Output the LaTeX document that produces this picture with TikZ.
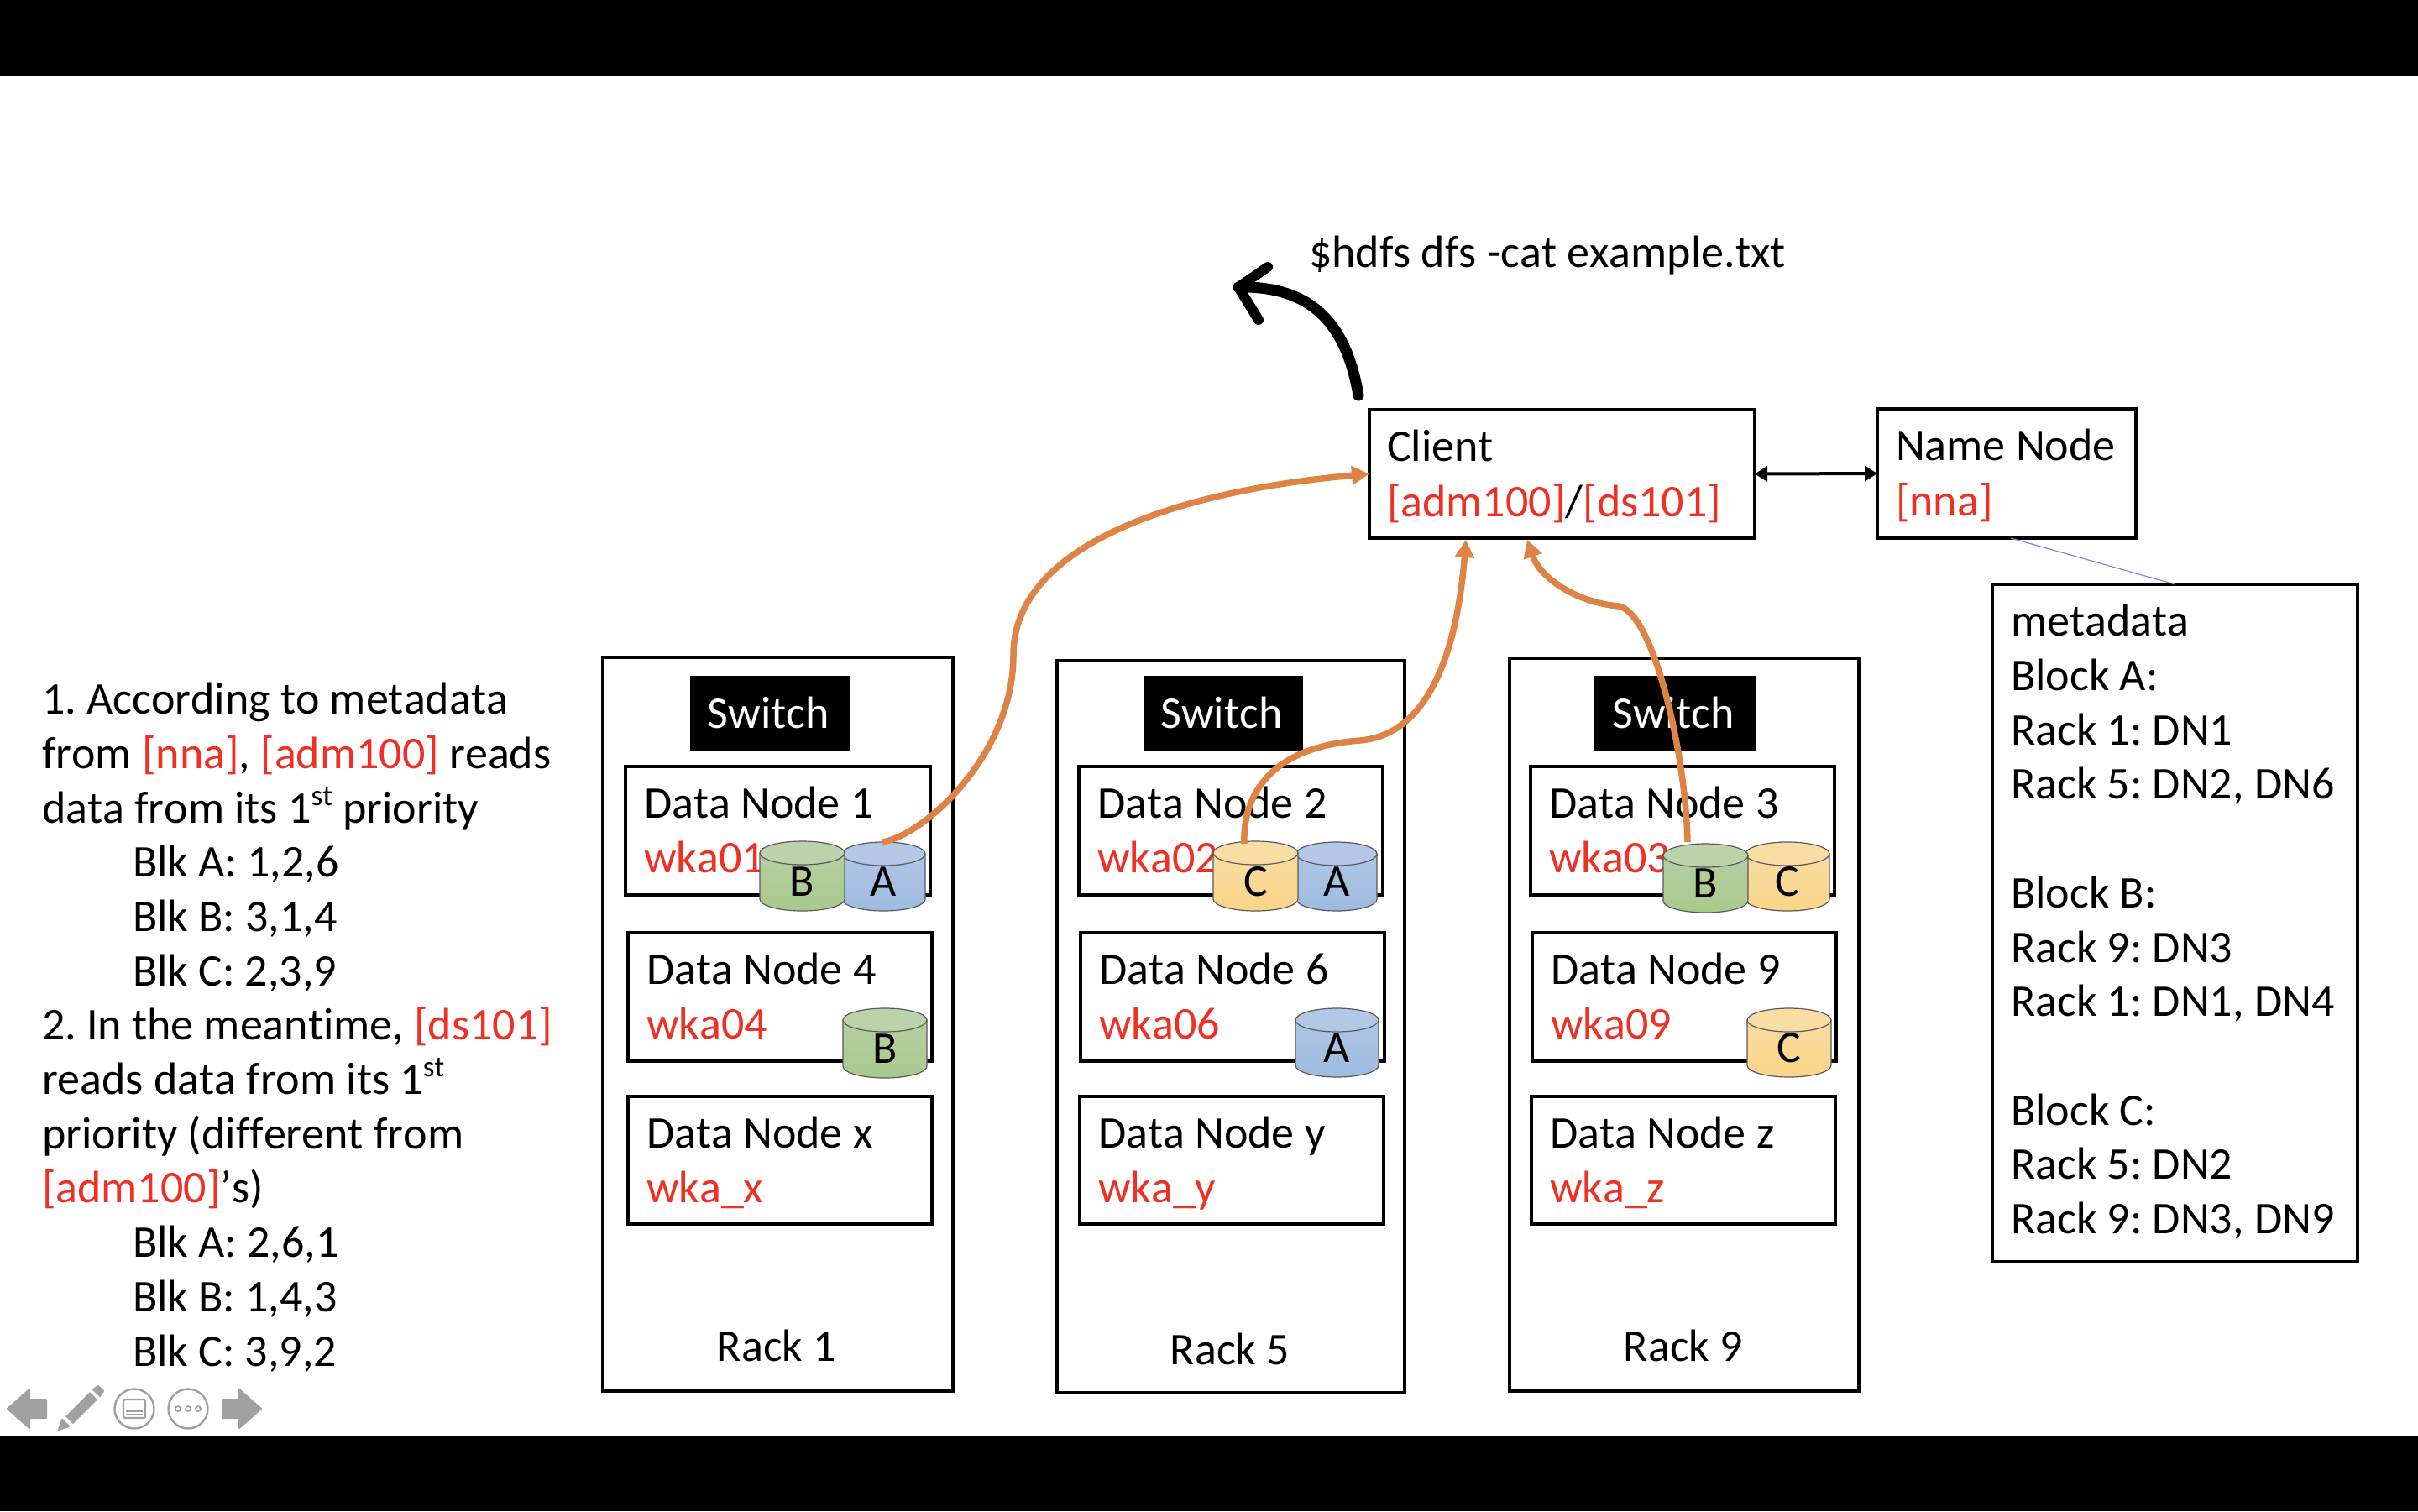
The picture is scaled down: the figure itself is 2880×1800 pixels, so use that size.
\documentclass[tikz,border=0pt]{standalone}
\usepackage{fontspec}
\setmainfont[Ligatures={NoCommon},Kerning=Off]{Carlito}
\usetikzlibrary{arrows.meta}
\frenchspacing
\definecolor{redt}{HTML}{EE3124}
\definecolor{orangeline}{HTML}{DF8344}
\definecolor{blueline}{HTML}{6F8FD0}
\definecolor{greenT}{HTML}{BBD2AA}\definecolor{greenA}{HTML}{B6CFA3}\definecolor{greenB}{HTML}{A9C98B}
\definecolor{blueT}{HTML}{B3C8E6}\definecolor{blueA}{HTML}{AFC5E4}\definecolor{blueB}{HTML}{9EBBE0}
\definecolor{yellT}{HTML}{F9DDA5}\definecolor{yellA}{HTML}{F9DCA2}\definecolor{yellB}{HTML}{F9D587}
\definecolor{icon}{HTML}{A0A0A0}
\newcommand{\rd}[1]{\textcolor{redt}{#1}}
\newcommand{\ordst}{\raisebox{21pt}{\fontsize{35}{35}\selectfont st}}
\tikzset{
  every node/.style={font=\fontsize{54}{64.7}\selectfont, inner sep=0pt, outer sep=0pt},
  boxst/.style={draw=black, line width=3.3pt, fill=white, rectangle},
  txtst/.style={anchor=base west, align=left},
  switchst/.style={fill=black, text=white, rectangle},
  flow/.style={draw=orangeline, line width=7.5pt, -{Triangle[length=21pt,width=22pt]}},
  cylline/.style={draw=black!65, line width=1.2pt},
  iconline/.style={draw=icon, line width=2.4pt},
}
% name, x1, y1, x2, y2
\newcommand{\rackbox}[5]{\node[boxst, minimum width={(#4-#2)*1pt}, minimum height={(#5-#3)*1pt}] (#1) at ({(#2+#4)/2},{(#3+#5)/2}) {};}
% name, x1, y1, x2, y2, first line, second line
\newcommand{\databox}[7]{%
  \rackbox{#1}{#2}{#3}{#4}{#5}
  \node[txtst] (#1-a) at ({#2+22},{#3+61}) {#6};
  \node[txtst] (#1-b) at ({#2+22},{#3+126}) {\rd{#7}};
}
% name, x1, x2, ytop, ybottom, colour stem, letter
\newcommand{\cyl}[7]{%
  \pgfmathsetmacro{\rx}{(#3-#2)/2}
  \pgfmathsetmacro{\xc}{(#2+#3)/2}
  \shade[cylline, top color=#6A, bottom color=#6B]
    (#2,{#4+14}) -- (#2,{#5-14}) arc[start angle=180,end angle=360,x radius=\rx pt,y radius=14pt] -- (#3,{#4+14}) -- cycle;
  \draw[cylline, fill=#6T] (\xc,{#4+14}) ellipse[x radius=\rx pt,y radius=14pt];
  \node[anchor=base] (#1) at (\xc,{#5-18}) {#7};
}
\begin{document}
\begin{tikzpicture}[x=1pt,y=-1pt]
\useasboundingbox (0,0) rectangle (2880,1800);
\fill[white] (0,0) rectangle (2880,1800);
\fill[black] (0,0) rectangle (2880,90);
\fill[black] (0,1710) rectangle (2880,1800);

% command
\node[txtst] (cmd) at (1559,318) {\$hdfs dfs -cat example.txt};

% top boxes
\rackbox{client}{1631}{488}{2090}{641}
\node[txtst] (client-a) at (1652,549) {Client};
\node[txtst] (client-b) at (1652,615) {\rd{[adm100]}/\rd{[ds101]}};
\rackbox{nn}{2236}{487}{2544}{641}
\node[txtst] (nn-a) at (2258,548) {Name Node};
\node[txtst] (nn-b) at (2258,614) {\rd{[nna]}};

% metadata
\node[boxst, minimum width=435pt, minimum height=807pt] (meta) at (2590.5,1099.5) {};
\node[txtst] (metatext) at (2395,1469.5) {metadata\\Block A:\\Rack 1: DN1\\Rack 5: DN2, DN6\\[64.7pt]Block B:\\Rack 9: DN3\\Rack 1: DN1, DN4\\[64.7pt]Block C:\\Rack 5: DN2\\Rack 9: DN3, DN9};
\draw[draw=blueline, line width=1.2pt] ([xshift=5pt]nn.south) -- (meta.north);

% left explanation
\node[txtst] (explain) at (50,1627) {1. According to metadata\\from \rd{[nna]}, \rd{[adm100]} reads\\data from its 1\ordst{} priority\\\hspace*{108pt}Blk A: 1,2,6\\\hspace*{108pt}Blk B: 3,1,4\\\hspace*{108pt}Blk C: 2,3,9\\2. In the meantime, \rd{[ds101]}\\reads data from its 1\ordst\\priority (different from\\\rd{[adm100]}’s)\\\hspace*{108pt}Blk A: 2,6,1\\\hspace*{108pt}Blk B: 1,4,3\\\hspace*{108pt}Blk C: 3,9,2};

% racks
\rackbox{rack1}{718}{783}{1135}{1657}
\rackbox{rack5}{1259}{787}{1673}{1659}
\rackbox{rack9}{1798}{784}{2214}{1657}
\node[anchor=base] (rack1-l) at (925,1621) {Rack 1};
\node[anchor=base] (rack5-l) at (1465,1625) {Rack 5};
\node[anchor=base] (rack9-l) at (2005,1621) {Rack 9};

% switches
\node[switchst, minimum width=191pt, minimum height=90pt] (sw1) at (917.5,850) {};
\node[switchst, minimum width=190pt, minimum height=90pt] (sw5) at (1457,850) {};
\node[switchst, minimum width=192pt, minimum height=90pt] (sw9) at (1995,850) {};
\node[anchor=base, text=white] (sw1-l) at (915.5,867) {Switch};
\node[anchor=base, text=white] (sw5-l) at (1455,867) {Switch};
\node[anchor=base, text=white] (sw9-l) at (1993,867) {Switch};

% data nodes
\databox{dn1}{745}{913}{1108}{1066}{Data Node 1}{wka01}
\databox{dn4}{748}{1111}{1110}{1264}{Data Node 4}{wka04}
\databox{dnx}{748}{1306}{1110}{1458}{Data Node x}{wka\_x}
\databox{dn2}{1285}{913}{1647}{1066}{Data Node 2}{wka02}
\databox{dn6}{1287}{1111}{1649}{1264}{Data Node 6}{wka06}
\databox{dny}{1286}{1306}{1648}{1458}{Data Node y}{wka\_y}
\databox{dn3}{1823}{913}{2185}{1066}{Data Node 3}{wka03}
\databox{dn9}{1825}{1111}{2187}{1264}{Data Node 9}{wka09}
\databox{dnz}{1824}{1306}{2186}{1458}{Data Node z}{wka\_z}

% block cylinders
\cyl{c1a}{1003}{1102}{1003}{1085}{blue}{A}
\cyl{c1b}{905}{1006}{1002}{1085}{green}{B}
\cyl{c2a}{1544}{1640}{1003}{1085}{blue}{A}
\cyl{c2c}{1445}{1546}{1002}{1085}{yell}{C}
\cyl{c3c}{2079}{2179}{1003}{1085}{yell}{C}
\cyl{c3b}{1981}{2082}{1005}{1087}{green}{B}
\cyl{c4b}{1004}{1104}{1201}{1284}{green}{B}
\cyl{c6a}{1543}{1642}{1201}{1283}{blue}{A}
\cyl{c9c}{2081}{2181}{1201}{1283}{yell}{C}

% connectors
\coordinate (s1) at (1051,1003);
\coordinate (s2) at (1482,1005);
\coordinate (s3) at (2010,1003);
\coordinate (t2) at (1746,643);
\coordinate (t3) at (1819,643);
\draw[flow] (s1) .. controls (1100,995) and (1207,900) .. (1207,780) .. controls (1207,650) and (1400,585) .. (client.west);
\draw[flow] (s2) .. controls (1480,950) and (1510,890) .. (1620,882) .. controls (1700,875) and (1735,780) .. (t2);
\draw[flow] (s3) .. controls (2008,900) and (1970,730) .. (1928,722) .. controls (1880,718) and (1835,690) .. (t3);
\draw[line width=4pt, {Triangle[length=15pt,width=18pt]}-{Triangle[length=15pt,width=18pt]}] (client.east) -- (nn.west);

% output arrow
\coordinate (o0) at (1618,471);
\coordinate (o1) at (1475,342);
\draw[line width=13pt, line cap=round, line join=round] (o0) .. controls (1605,395) and (1570,340) .. (o1);
\draw[line width=12pt, line cap=round, line join=round] (1510,318) -- (o1) -- (1499,381);

% slide toolbar
\fill[icon, draw=icon, line width=2pt, line join=round] (9,1678) -- (35,1655) -- (35,1667) -- (55,1667) -- (55,1689) -- (35,1689) -- (35,1701) -- cycle;
\fill[icon, draw=icon, line width=2pt, line join=round] (311,1678) -- (285,1655) -- (285,1667) -- (265,1667) -- (265,1689) -- (285,1689) -- (285,1701) -- cycle;
\fill[icon, draw=icon, line width=1pt, line join=round] (69,1704) -- (74,1690) -- (83,1699) -- cycle;
\fill[icon] (78,1687) -- (107,1658) -- (116,1667) -- (87,1696) -- cycle;
\fill[icon, draw=icon, line width=2pt, line join=round] (111,1655) -- (117,1651) -- (123,1657) -- (119,1663) -- cycle;
\draw[iconline] (160,1678) circle[radius=23.5pt];
\draw[iconline, rounded corners=2pt] (147,1667) rectangle (173,1689);
\draw[icon, line width=1.5pt] (150,1681) -- (170,1681) (150,1685) -- (170,1685);
\draw[iconline] (224,1678) circle[radius=23.5pt];
\foreach \dx in {212,224,236} \draw[icon, line width=1.8pt] (\dx,1678) circle[radius=3pt];
\end{tikzpicture}
\end{document}
